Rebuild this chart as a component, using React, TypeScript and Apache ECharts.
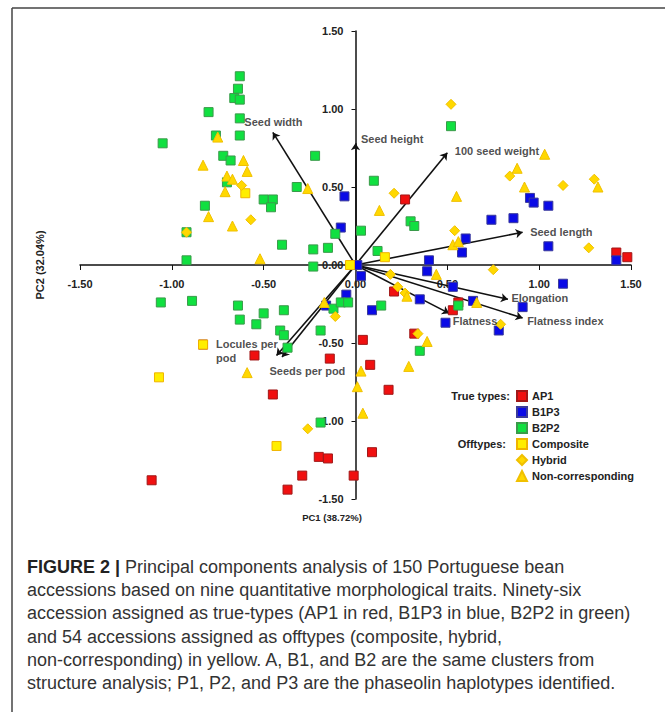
import React, { useEffect, useRef } from "react";
import * as echarts from "echarts";

// ---- Data (PC1, PC2) ----
const ap1: number[][] = [
  [0.27, 0.42], [1.42, 0.08], [1.48, 0.05], [0.21, -0.17], [0.53, -0.29], [0.56, -0.24],
  [0.32, -0.44], [0.04, -0.48], [0.08, -0.64], [0.18, -0.8], [0.09, -1.2], [-0.01, -1.35],
  [-0.83, -0.51], [-0.55, -0.58], [-0.14, -0.6], [-0.45, -0.83], [-0.2, -1.23], [-0.15, -1.24],
  [-0.29, -1.35], [-0.37, -1.44], [-1.11, -1.38],
];
const b1p3: number[][] = [
  [-0.06, 0.44], [-0.08, 0.24], [0.95, 0.43], [0.97, 0.4], [1.05, 0.38], [0.74, 0.29],
  [0.86, 0.3], [0.6, 0.17], [0.58, 0.08], [1.05, 0.12], [0.4, 0.03], [0.39, -0.04],
  [1.42, 0.03], [0.01, 0.0], [0.03, -0.07], [1.13, -0.12], [0.53, -0.14], [0.35, -0.22],
  [0.09, -0.29], [0.64, -0.23], [0.91, -0.27], [0.49, -0.37], [0.78, -0.42], [-0.05, -0.19],
  [-0.16, -0.26],
];
const b2p2: number[][] = [
  [-0.63, 1.21], [-0.64, 1.13], [-0.66, 1.07], [-0.63, 1.06], [-0.8, 0.98], [-0.63, 0.94],
  [-0.63, 0.83], [-0.76, 0.83], [-1.05, 0.78], [-0.22, 0.7], [-0.72, 0.7], [-0.68, 0.67],
  [-0.7, 0.53], [-0.32, 0.5], [-0.5, 0.42], [-0.45, 0.42], [-0.46, 0.37], [-0.82, 0.38],
  [-0.92, 0.21], [-0.11, 0.2], [-0.4, 0.13], [-0.23, 0.1], [-0.15, 0.11], [-0.92, 0.03],
  [-0.23, -0.01], [0.03, 0.22], [0.52, 0.89], [0.1, 0.54], [0.3, 0.28], [0.32, 0.25],
  [0.12, 0.09], [-1.06, -0.24], [-0.89, -0.23], [-0.64, -0.26], [-0.5, -0.31], [-0.39, -0.29],
  [-0.63, -0.35], [-0.54, -0.38], [-0.41, -0.42], [-0.39, -0.45], [-0.37, -0.53], [-0.19, -0.42],
  [-0.12, -0.28], [-0.08, -0.24], [-0.04, -0.24], [-0.19, -1.01], [0.14, -0.26], [0.56, -0.26],
  [0.35, -0.55],
];
const composite: number[][] = [
  [-0.6, 0.46], [-0.03, 0.0], [0.16, 0.05], [-0.83, -0.51], [-1.07, -0.72], [-0.43, -1.16],
];
const hybrid: number[][] = [
  [-0.62, 0.51], [-0.57, 0.29], [-0.92, 0.21], [0.52, 1.03], [0.84, 0.57], [1.13, 0.51],
  [1.3, 0.55], [0.21, 0.46], [0.54, 0.22], [1.27, 0.11], [0.75, -0.03], [0.19, -0.06],
  [0.23, -0.14], [0.27, -0.18], [0.34, -0.44], [0.79, -0.38], [-0.11, -0.33], [-0.26, -1.05],
];
const nonCorresponding: number[][] = [
  [-0.75, 0.82], [-0.83, 0.64], [-0.61, 0.67], [-0.59, 0.6], [-0.7, 0.57], [-0.67, 0.55],
  [-0.71, 0.47], [-0.26, 0.49], [-0.8, 0.31], [-0.67, 0.25], [-0.52, 0.04], [1.03, 0.71],
  [0.88, 0.62], [0.92, 0.5], [1.32, 0.5], [0.55, 0.44], [0.13, 0.35], [0.53, 0.13],
  [0.56, 0.15], [0.44, -0.06], [0.28, -0.2], [0.66, -0.24], [0.39, -0.49], [0.29, -0.65],
  [0.03, -0.68], [0.01, -0.78], [0.04, -0.95], [-0.17, -0.24], [-0.59, -0.69],
];

// Trait loadings (arrow tips)
const traitNames = [
  "Seed width", "Seed height", "100 seed weight", "Seed length", "Elongation",
  "Flatness index", "Flatness", "Locules per\npod", "Seeds per pod",
];
const traitLoadings: number[][] = [
  [-0.45, 0.85], [0.0, 0.78], [0.5, 0.72], [0.91, 0.21], [0.83, -0.22],
  [0.91, -0.34], [0.51, -0.31], [-0.43, -0.58], [-0.4, -0.59],
];

const xTickValues = [-1.5, -1.0, -0.5, 0, 0.5, 1.0, 1.5];
const xAxisTitle = "PC1 (38.72%)";
const yAxisTitle = "PC2 (32.04%)";

// label offsets (pixels, relative to arrow tip) — layout only
const traitLabelOffsets: Record<string, [number, number]> = {
  "Seed width": [-28, -10],
  "Seed height": [6, -4],
  "100 seed weight": [8, -1],
  "Seed length": [8, 0],
  "Elongation": [4, -1],
  "Flatness index": [5, 3],
  "Flatness": [4, 8],
  "Locules per\npod": [-60, -4],
  "Seeds per pod": [-12, 14],
};

const captionLines = [
  "{b|FIGURE 2 |} Principal components analysis of 150 Portuguese bean",
  "accessions based on nine quantitative morphological traits. Ninety-six",
  "accession assigned as true-types (AP1 in red, B1P3 in blue, B2P2 in green)",
  "and 54 accessions assigned as offtypes (composite, hybrid,",
  "non-corresponding) in yellow. A, B1, and B2 are the same clusters from",
  "structure analysis; P1, P2, and P3 are the phaseolin haplotypes identified.",
];

const FONT = "'Liberation Sans', Arial, sans-serif";

const GRID = { left: 80, right: 34, top: 31, bottom: 213 };
const W = 665;
const H = 712;

export default function App() {
  const ref = useRef<HTMLDivElement>(null);
  useEffect(() => {
    document.body.style.margin = "0";
    if (!ref.current) return;
    const chart = echarts.init(ref.current, undefined, { renderer: "svg" });

    const gridW = W - GRID.left - GRID.right;
    const gridH = H - GRID.top - GRID.bottom;

    const markerSeries = (
      name: string,
      data: number[][],
      symbol: string,
      size: number,
      color: string,
      border: string
    ) => ({
      name,
      type: "scatter",
      data,
      symbol,
      symbolSize: size,
      z: 5,
      itemStyle: { color, borderColor: border, borderWidth: 1, opacity: 1 },
      emphasis: { disabled: true },
    });

    const option: any = {
      animation: false,
      backgroundColor: "#fff",
      textStyle: { fontFamily: FONT },
      grid: { ...GRID, containLabel: false },
      xAxis: {
        type: "value",
        min: -1.5,
        max: 1.5,
        interval: 0.5,
        position: "bottom",
        offset: -gridH / 2,
        axisLine: { onZero: false, lineStyle: { color: "#111", width: 1.5 } },
        axisTick: { show: true, length: 5, lineStyle: { color: "#111", width: 1 } },
        axisLabel: {
          margin: 13,
          fontSize: 11,
          fontWeight: "bold",
          color: "#222",
          fontFamily: FONT,
          formatter: (v: number) => (xTickValues.includes(v) ? v.toFixed(2) : ""),
        },
        splitLine: { show: false },
      },
      yAxis: {
        type: "value",
        min: -1.5,
        max: 1.5,
        interval: 0.5,
        position: "left",
        offset: -gridW / 2,
        axisLine: { onZero: false, lineStyle: { color: "#111", width: 1.5 } },
        axisTick: { show: true, length: 4, lineStyle: { color: "#111", width: 1 } },
        axisLabel: {
          margin: 12,
          fontSize: 11,
          fontWeight: "bold",
          color: "#222",
          fontFamily: FONT,
          formatter: (v: number) => v.toFixed(2),
        },
        splitLine: { show: false },
      },
      legend: {
        orient: "vertical",
        left: 516,
        top: 390,
        padding: 0,
        itemWidth: 10,
        itemHeight: 10,
        itemGap: 4,
        selectedMode: false,
        textStyle: { fontSize: 11, fontWeight: "bold", color: "#222", lineHeight: 12, fontFamily: FONT },
        data: [
          { name: "AP1", icon: "rect" },
          { name: "B1P3", icon: "rect" },
          { name: "B2P2", icon: "rect" },
          { name: "Composite", icon: "rect" },
          { name: "Hybrid", icon: "diamond" },
          { name: "Non-corresponding", icon: "triangle" },
        ],
      },
      series: [
        {
          name: "loadings",
          type: "lines",
          coordinateSystem: "cartesian2d",
          z: 3,
          symbol: ["none", "arrow"],
          symbolSize: [0, 7],
          lineStyle: { color: "#111", width: 1.6, opacity: 1, curveness: 0 },
          emphasis: { disabled: true },
          data: traitLoadings.map((p) => ({ coords: [[0, 0], p] })),
        },
        {
          name: "traitLabels",
          type: "scatter",
          z: 6,
          symbol: "circle",
          symbolSize: 1,
          itemStyle: { color: "rgba(0,0,0,0)" },
          emphasis: { disabled: true },
          data: traitLoadings.map((p, i) => ({
            value: p,
            name: traitNames[i],
            label: {
              show: true,
              position: traitLabelOffsets[traitNames[i]],
              align: "left",
              verticalAlign: "middle",
              formatter: traitNames[i],
              fontSize: 11,
              fontWeight: "bold",
              color: "#222",
              lineHeight: 14,
              fontFamily: FONT,
            },
          })),
        },
        markerSeries("AP1", ap1, "rect", 9, "#f01010", "#a01818"),
        markerSeries("B1P3", b1p3, "rect", 9, "#0a0ae6", "#3a3a9a"),
        markerSeries("B2P2", b2p2, "rect", 9, "#10e040", "#3a9a4a"),
        markerSeries("Composite", composite, "rect", 9, "#ffee00", "#f0b400"),
        markerSeries("Hybrid", hybrid, "diamond", 10, "#ffd800", "#f0c000"),
        markerSeries("Non-corresponding", nonCorresponding, "triangle", 10, "#ffd800", "#f0c000"),
      ],
      graphic: [
        { type: "line", shape: { x1: 12, y1: 8, x2: 665, y2: 8 }, style: { stroke: "#444", lineWidth: 1.5 } },
        { type: "line", shape: { x1: 12, y1: 8, x2: 12, y2: 712 }, style: { stroke: "#444", lineWidth: 1.5 } },
        {
          type: "text",
          x: 332,
          y: 517,
          style: { text: xAxisTitle, font: `bold 9.5px ${FONT}`, fill: "#222", align: "center", verticalAlign: "middle" },
        },
        {
          type: "text",
          x: 40,
          y: 265,
          rotation: Math.PI / 2,
          style: { text: yAxisTitle, font: `bold 11px ${FONT}`, fill: "#222", align: "center", verticalAlign: "middle" },
        },
        {
          type: "text",
          x: 510,
          y: 396,
          style: { text: "True types:", font: `bold 11px ${FONT}`, fill: "#222", align: "right", verticalAlign: "middle" },
        },
        {
          type: "text",
          x: 506,
          y: 444,
          style: { text: "Offtypes:", font: `bold 11px ${FONT}`, fill: "#222", align: "right", verticalAlign: "middle" },
        },
        {
          type: "text",
          x: 27,
          y: 555,
          style: {
            text: captionLines.join("\n"),
            font: `18px ${FONT}`,
            fill: "#333",
            lineHeight: 23.3,
            align: "left",
            verticalAlign: "top",
            rich: {
              b: { font: `bold 18px ${FONT}`, fill: "#222", lineHeight: 23.3 },
            },
          },
        },
      ],
    };
    chart.setOption(option);
    return () => chart.dispose();
  }, []);
  return <div ref={ref} style={{ width: W, height: H }} />;
}
